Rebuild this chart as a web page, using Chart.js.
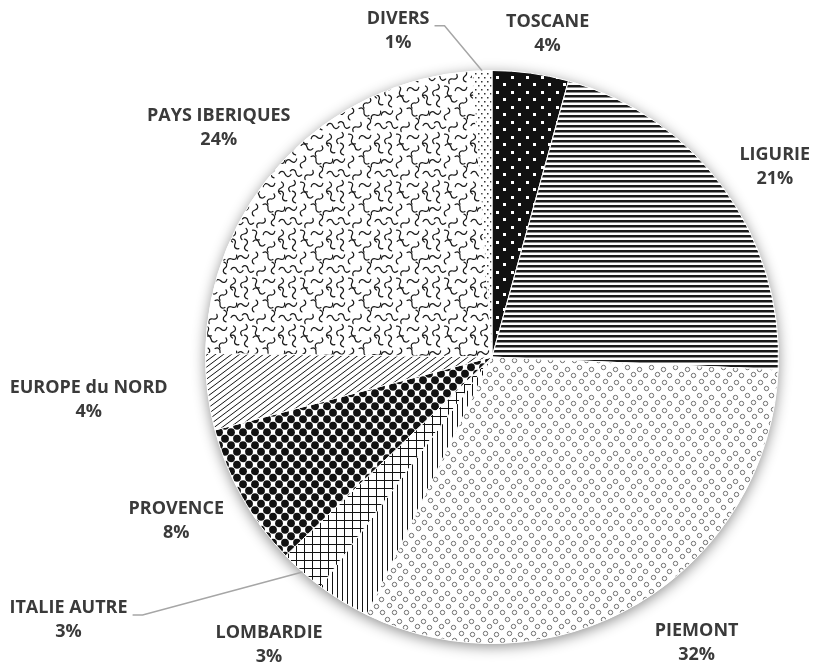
<!DOCTYPE html>
<html>
<head>
<meta charset="utf-8">
<script src="https://cdn.jsdelivr.net/npm/chart.js@4.4.1/dist/chart.umd.min.js"></script>
<style>
    html, body { margin: 0; padding: 0; background: #fff; }
    #wrap { width: 815px; height: 664px; }
</style>
</head>
<body>
<div id="wrap"><canvas id="origin-chart" width="815" height="664"></canvas></div>
<script>
// Data (shares in %)
const regions = ['TOSCANE', 'LIGURIE', 'PIEMONT', 'LOMBARDIE', 'ITALIE AUTRE', 'PROVENCE', 'EUROPE du NORD', 'PAYS IBERIQUES', 'DIVERS'];
const shares = [4.3, 21.4, 31.5, 3.0, 2.6, 8.1, 4.3, 23.7, 1.1];

// Label placement relative to the outer middle of each slice (px)
const labelShift = [[17, -39], [51, -22], [58, 40], [-74, 43], [-234, 48], [-66, 23], [-119, 8], [-65, -32], [-84, -40]];
const withLeader = [false, false, false, false, true, false, false, false, true];

const canvas = document.getElementById('origin-chart');
const ctx = canvas.getContext('2d');

// Build a repeating fill from a small tile
function makePattern(w, h, draw) {
    const tile = document.createElement('canvas');
    tile.width = w;
    tile.height = h;
    const g = tile.getContext('2d');
    g.fillStyle = '#fff';
    g.fillRect(0, 0, w, h);
    draw(g, w, h);
    return ctx.createPattern(tile, 'repeat');
}

// draw something at every wrap offset so it tiles seamlessly
function wrapped(w, h, fn) {
    for (let ox = -w; ox <= w; ox += w) {
        for (let oy = -h; oy <= h; oy += h) {
            fn(ox, oy);
        }
    }
}

// squiggle centres + rotation inside a 48x48 tile
const squiggles = [
    [6, 5, 75], [19, 3, 15], [31, 7, 120], [43, 4, 50],
    [3, 17, 160], [15, 18, 100], [28, 16, 35], [40, 19, 140],
    [8, 29, 20], [21, 31, 130], [33, 28, 80], [45, 30, 5],
    [4, 42, 110], [16, 43, 55], [29, 41, 165], [41, 44, 95]
];

const patterns = [
    // TOSCANE: black with white squares
    makePattern(15, 15, function(g, w, h) {
        g.fillStyle = '#111';
        g.fillRect(0, 0, w, h);
        g.fillStyle = '#fff';
        g.fillRect(1, 1, 3, 3);
        g.fillRect(8, 8, 3, 3);
    }),
    // LIGURIE: horizontal stripes
    makePattern(4, 5, function(g, w) {
        g.fillStyle = '#1a1a1a';
        g.fillRect(0, 0, w, 2);
        g.fillStyle = 'rgba(26,26,26,0.5)';
        g.fillRect(0, 2, w, 1);
    }),
    // PIEMONT: small open circles
    makePattern(24, 28, function(g, w, h) {
        g.strokeStyle = '#707070';
        g.lineWidth = 1;
        [[3, 3], [15, 5], [9, 10], [21, 11], [5, 17], [16, 18], [10, 24], [22, 24]].forEach(function(p) {
            wrapped(w, h, function(ox, oy) {
                g.beginPath();
                g.arc(p[0] + ox + 0.5, p[1] + oy + 0.5, 2.2, 0, Math.PI * 2);
                g.stroke();
            });
        });
    }),
    // LOMBARDIE: vertical lines
    makePattern(5, 5, function(g, w, h) {
        g.fillStyle = '#111';
        g.fillRect(2, 0, 1, h);
    }),
    // ITALIE AUTRE: grid
    makePattern(8, 8, function(g, w, h) {
        g.fillStyle = '#111';
        g.fillRect(0, 0, w, 1);
        g.fillRect(0, 0, 1, h);
    }),
    // PROVENCE: large black dots
    makePattern(12, 13, function(g, w, h) {
        g.fillStyle = '#111';
        [[3, 3.25], [9, 9.75]].forEach(function(p) {
            wrapped(w, h, function(ox, oy) {
                g.beginPath();
                g.arc(p[0] + ox, p[1] + oy, 3.9, 0, Math.PI * 2);
                g.fill();
            });
        });
    }),
    // EUROPE du NORD: upward diagonal
    makePattern(8, 6, function(g, w, h) {
        g.strokeStyle = '#111';
        g.lineWidth = 1;
        for (let k = -1; k <= 1; k++) {
            g.beginPath();
            g.moveTo(-w, 2 * h + k * h);
            g.lineTo(2 * w, -h + k * h);
            g.stroke();
        }
    }),
    // PAYS IBERIQUES: wavy squiggles
    makePattern(48, 48, function(g, w, h) {
        g.strokeStyle = '#1a1a1a';
        g.lineWidth = 1.25;
        g.lineCap = 'round';
        squiggles.forEach(function(s) {
            wrapped(w, h, function(ox, oy) {
                g.save();
                g.translate(s[0] + ox, s[1] + oy);
                g.rotate(s[2] * Math.PI / 180);
                g.beginPath();
                g.moveTo(-6, 0);
                g.bezierCurveTo(-4.5, -3, -1.5, -3, 0, 0);
                g.bezierCurveTo(1.5, 3, 4.5, 3, 6, 0);
                g.stroke();
                g.restore();
            });
        });
    }),
    // DIVERS: fine dots
    makePattern(6, 8, function(g) {
        g.fillStyle = '#333';
        g.fillRect(1, 1, 1.5, 1.5);
        g.fillRect(4, 5, 1.5, 1.5);
    })
];

// Soft shadow under the whole pie
const pieShadow = {
    id: 'pieShadow',
    beforeDatasetsDraw(chart) {
        const arc = chart.getDatasetMeta(0).data[0];
        if (!arc) return;
        const p = arc.getProps(['x', 'y', 'outerRadius'], true);
        const c = chart.ctx;
        c.save();
        c.shadowColor = 'rgba(0, 0, 0, 0.45)';
        c.shadowBlur = 14;
        c.shadowOffsetY = 3;
        c.fillStyle = '#fff';
        c.beginPath();
        c.arc(p.x, p.y, p.outerRadius, 0, Math.PI * 2);
        c.fill();
        c.restore();
    }
};

// Two-line labels outside the slices, with leader lines where moved away
const outsideLabels = {
    id: 'outsideLabels',
    afterDatasetsDraw(chart) {
        const c = chart.ctx;
        const values = chart.data.datasets[0].data;
        c.save();
        c.font = 'bold 18px "Open Sans"';
        c.fillStyle = '#3a3a3a';
        c.textAlign = 'center';
        c.textBaseline = 'middle';
        chart.getDatasetMeta(0).data.forEach(function(arc, i) {
            const p = arc.getProps(['x', 'y', 'startAngle', 'endAngle', 'outerRadius'], true);
            const mid = (p.startAngle + p.endAngle) / 2;
            const ax = p.x + Math.cos(mid) * p.outerRadius;
            const ay = p.y + Math.sin(mid) * p.outerRadius;
            const lx = ax + labelShift[i][0];
            const ly = ay + labelShift[i][1];
            const pct = Math.round(values[i]) + '%';
            c.fillText(chart.data.labels[i], lx, ly - 12);
            c.fillText(pct, lx, ly + 12);

            if (withLeader[i]) {
                const half = Math.max(c.measureText(chart.data.labels[i]).width, c.measureText(pct).width) / 2;
                const sx = lx + half + 5;
                const sy = ly - 5;
                c.save();
                c.strokeStyle = '#a6a6a6';
                c.lineWidth = 1.5;
                c.beginPath();
                c.moveTo(sx, sy);
                c.lineTo(sx + 10, sy);
                c.lineTo(ax, ay);
                c.stroke();
                c.restore();
            }
        });
        c.restore();
    }
};

new Chart(ctx, {
    type: 'pie',
    data: {
        labels: regions,
        datasets: [{
            data: shares,
            backgroundColor: patterns,
            borderColor: '#fff',
            borderWidth: 1
        }]
    },
    options: {
        responsive: false,
        animation: false,
        layout: {
            padding: { left: 205, right: 36, top: 70, bottom: 20 }
        },
        plugins: {
            legend: { display: false },
            tooltip: { enabled: false }
        }
    },
    plugins: [pieShadow, outsideLabels]
});
</script>
</body>
</html>
